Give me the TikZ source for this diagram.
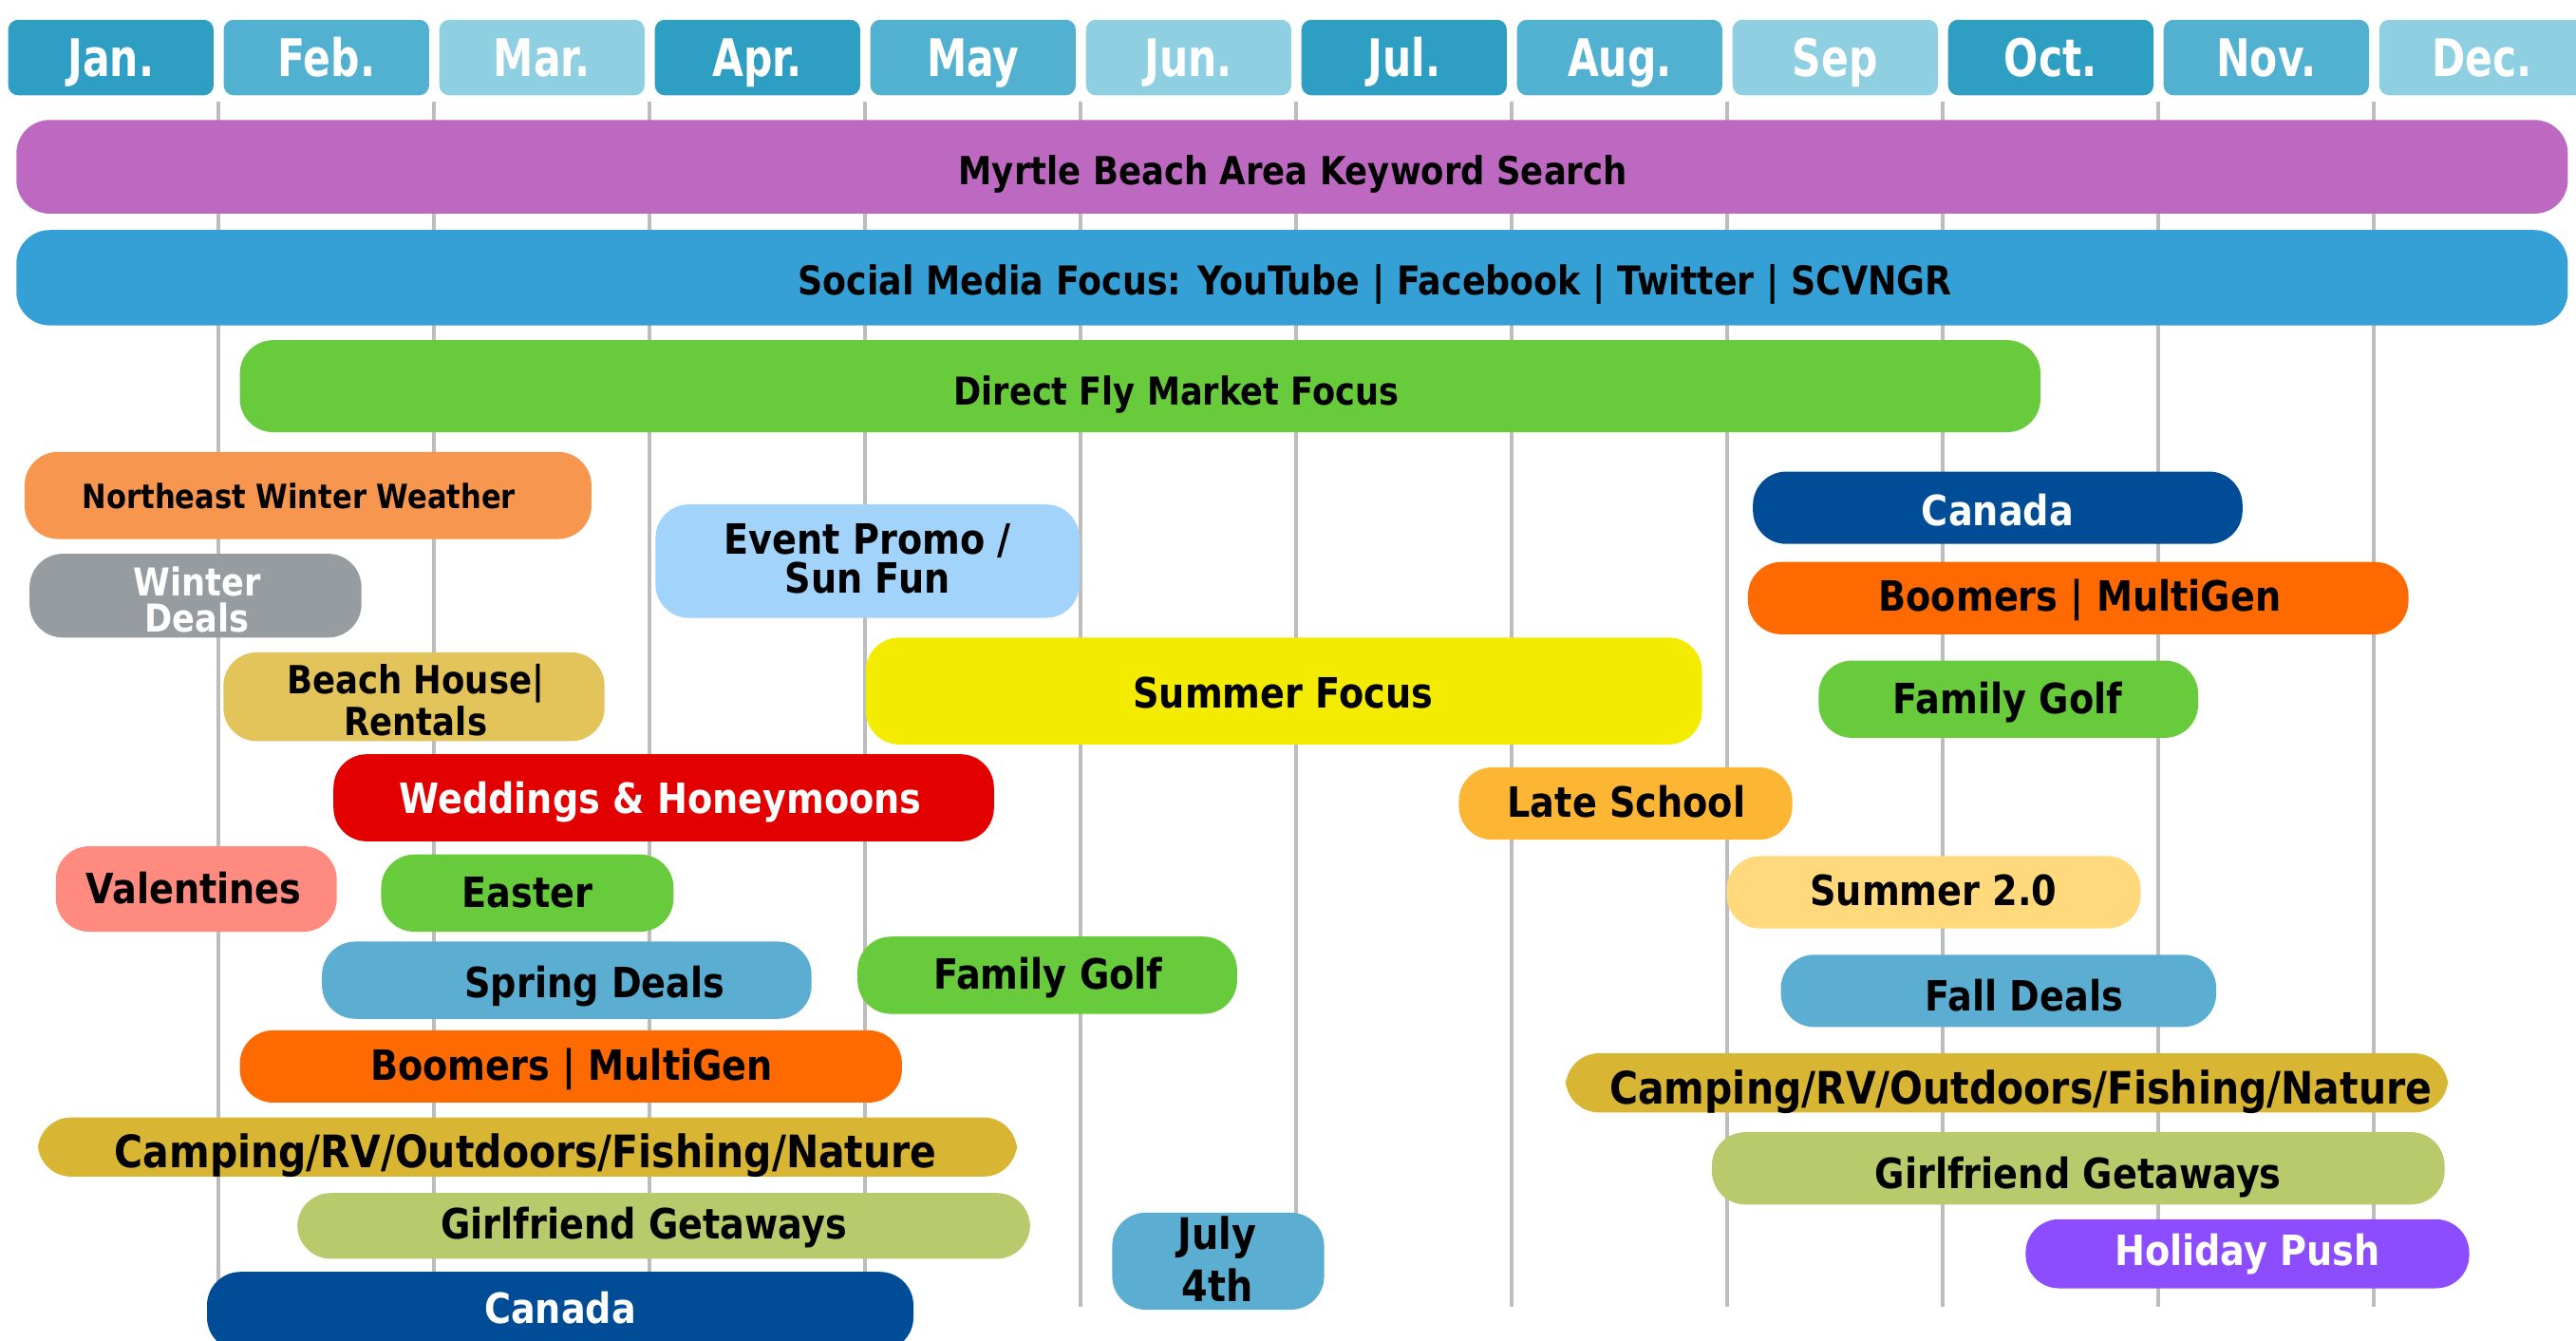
\documentclass[tikz,border=0pt]{standalone}
\usepackage{fontspec}
\setmainfont{DejaVu Sans}[FakeStretch=0.87]
\newfontfamily\monthfont{DejaVu Sans}[FakeStretch=0.78]
\definecolor{tabdark}{HTML}{2E9FC2}
\definecolor{tabmid}{HTML}{52B1D1}
\definecolor{tablight}{HTML}{8FCFE2}
\definecolor{gridgray}{HTML}{BDBDBD}
\definecolor{keyword}{HTML}{BE69C1}
\definecolor{social}{HTML}{35A0D5}
\definecolor{flygreen}{HTML}{68CB3B}
\definecolor{neorange}{HTML}{F7964F}
\definecolor{wintergray}{HTML}{969C9F}
\definecolor{eventblue}{HTML}{A2D3FA}
\definecolor{beachgold}{HTML}{E3C45B}
\definecolor{summeryellow}{HTML}{F4EC00}
\definecolor{weddingred}{HTML}{E20000}
\definecolor{schoolorange}{HTML}{FDB633}
\definecolor{canadablue}{HTML}{014C96}
\definecolor{boomerorange}{HTML}{FF6A00}
\definecolor{valpink}{HTML}{FF8B80}
\definecolor{summerlight}{HTML}{FFD97B}
\definecolor{dealblue}{HTML}{5BAED2}
\definecolor{campgold}{HTML}{D9B534}
\definecolor{girlgreen}{HTML}{B8CA6B}
\definecolor{holiday}{HTML}{8B4DFF}
\tikzset{
  bar/.style={rounded corners=10pt},
  tab/.style={rounded corners=3pt},
  month/.style={font=\monthfont\bfseries\fontsize{15.5}{16}\selectfont, text=white, inner sep=0pt, text height=11.3pt, text depth=0pt},
  tag/.style={font=\bfseries\fontsize{12.5}{13}\selectfont, inner sep=0pt, text height=9pt, text depth=0pt},
  tagtwo/.style={font=\bfseries\fontsize{11.5}{11}\selectfont, inner sep=0pt, align=center},
  grid/.style={draw=gridgray, line width=1pt}
}
\begin{document}
\begin{tikzpicture}[x=0.017302cm, y=-0.017302cm]
  \clip (0,0) rectangle (1568,815.5);
  % month header
  \foreach \m/\c [count=\i from 0] in {Jan./tabdark, Feb./tabmid, Mar./tablight, Apr./tabdark, May/tabmid, Jun./tablight, Jul./tabdark, Aug./tabmid, Sep/tablight, Oct./tabdark, Nov./tabmid, Dec./tablight}
  {
    \fill[tab, \c] (5+\i*131.2,12) rectangle (130+\i*131.2,58);
    \node[month] (m\i) at (67.5+\i*131.2,35) {\m};
  }
  % month dividers
  \foreach \k in {0,...,10}
    \draw[grid] (133+\k*131.2,62) -- (133+\k*131.2,795);
  % full year
  \fill[bar, keyword] (10,73) rectangle (1563,130);
  \node[tag, font=\bfseries\fontsize{11.6}{12}\selectfont, text height=8.4pt] (keywordsearch) at (787,104) {Myrtle Beach Area Keyword Search};
  \fill[bar, social] (10,140) rectangle (1563,198);
  \node[tag, font=\bfseries\fontsize{11.9}{12}\selectfont, text height=8.6pt] (socialmedia) at (837,171) {Social Media Focus: YouTube | Facebook | Twitter | SCVNGR};
  \fill[bar, flygreen] (146,207) rectangle (1242,263);
  \node[tag, font=\bfseries\fontsize{11.5}{12}\selectfont, text height=8.4pt] (directfly) at (716,238) {Direct Fly Market Focus};
  % winter / spring
  \fill[bar, neorange] (15,275) rectangle (360,328);
  \node[tag, font=\bfseries\fontsize{10}{11}\selectfont, text height=7.3pt] (neweather) at (182,302) {Northeast Winter Weather};
  \fill[bar, wintergray] (18,337) rectangle (220,388);
  \node[tagtwo, text=white] (winterdeals) at (120,365) {Winter\\Deals};
  \fill[bar, eventblue] (399,307) rectangle (657,376);
  \node[tagtwo, font=\bfseries\fontsize{12.5}{11.8}\selectfont] (eventpromo) at (528,340) {Event Promo /\\Sun Fun};
  \fill[bar, beachgold] (136,397) rectangle (368,451);
  \node[tagtwo, font=\bfseries\fontsize{11.6}{10.4}\selectfont] (beachhouse) at (253,426) {Beach House|\\Rentals};
  \fill[bar, weddingred] (203,459) rectangle (605,512);
  \node[tag, text=white] (weddings) at (402,486) {Weddings \& Honeymoons};
  \fill[bar, valpink] (34,515) rectangle (205,567);
  \node[tag] (valentines) at (118,541) {Valentines};
  \fill[bar, flygreen] (232,520) rectangle (410,567);
  \node[tag] (easter) at (321,543) {Easter};
  \fill[bar, dealblue] (196,573) rectangle (494,620);
  \node[tag] (springdeals) at (362,598) {Spring Deals};
  \fill[bar, boomerorange] (146,627) rectangle (549,671);
  \node[tag] (boomersL) at (348,648) {Boomers | MultiGen};
  \fill[bar, campgold] (23,680) rectangle (619,716);
  \node[tag, font=\bfseries\fontsize{13.4}{14}\selectfont, text height=9.7pt] (campingL) at (320,701) {Camping/RV/Outdoors/Fishing/Nature};
  \fill[bar, girlgreen] (181,726) rectangle (627,766);
  \node[tag] (girlfriendL) at (392,745) {Girlfriend Getaways};
  \fill[bar, canadablue] (126,774) rectangle (556,822);
  \node[tag, text=white] (canadaL) at (341,796) {Canada};
  % summer
  \fill[bar, summeryellow] (527,388) rectangle (1036,453);
  \node[tag] (summerfocus) at (781,422) {Summer Focus};
  \fill[bar, flygreen] (522,570) rectangle (753,617);
  \node[tag] (familygolfM) at (638,593) {Family Golf};
  \fill[bar, dealblue] (677,738) rectangle (806,797);
  \node[tagtwo, font=\bfseries\fontsize{13}{15.7}\selectfont] (julyfourth) at (741,766) {July\\4th};
  \fill[bar, schoolorange] (888,467) rectangle (1091,511);
  \node[tag] (lateschool) at (990,488) {Late School};
  % fall
  \fill[bar, canadablue] (1067,287) rectangle (1365,331);
  \node[tag, text=white] (canadaR) at (1216,311) {Canada};
  \fill[bar, boomerorange] (1064,342) rectangle (1466,386);
  \node[tag] (boomersR) at (1266,363) {Boomers | MultiGen};
  \fill[bar, flygreen] (1107,402) rectangle (1338,449);
  \node[tag] (familygolfR) at (1222,425) {Family Golf};
  \fill[bar, summerlight] (1051,521) rectangle (1303,565);
  \node[tag] (summertwo) at (1177,542) {Summer 2.0};
  \fill[bar, dealblue] (1084,581) rectangle (1349,625);
  \node[tag] (falldeals) at (1232,606) {Fall Deals};
  \fill[bar, campgold] (953,641) rectangle (1490,677);
  \node[tag, font=\bfseries\fontsize{13.4}{14}\selectfont, text height=9.7pt] (campingR) at (1230,662) {Camping/RV/Outdoors/Fishing/Nature};
  \fill[bar, girlgreen] (1042,689) rectangle (1488,733);
  \node[tag] (girlfriendR) at (1265,714) {Girlfriend Getaways};
  \fill[bar, holiday] (1233,742) rectangle (1503,784);
  \node[tag, text=white] (holidaypush) at (1368,761) {Holiday Push};
\end{tikzpicture}
\end{document}
